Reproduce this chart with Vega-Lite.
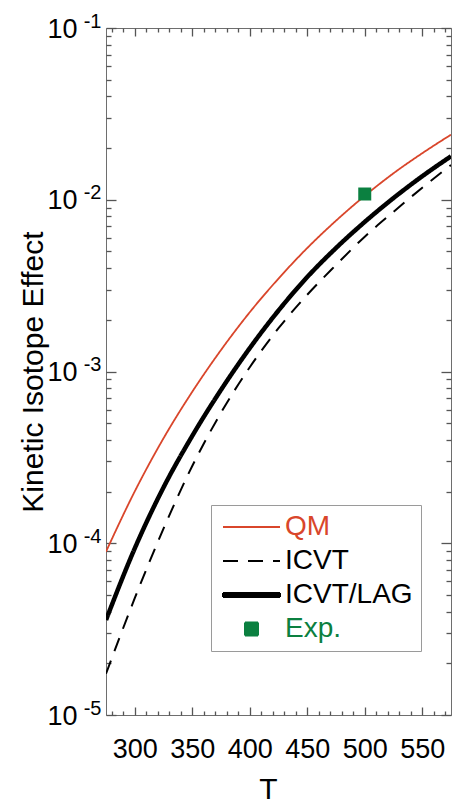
{
  "$schema": "https://vega.github.io/schema/vega-lite/v6.json",
  "width": 345,
  "height": 687,
  "autosize": {"type": "none"},
  "padding": {"left": 106, "top": 28, "right": 1, "bottom": 88},
  "background": "white",
  "config": {
    "view": {"stroke": "#6e6e6e", "strokeWidth": 1},
    "font": "Liberation Sans",
    "axis": {"grid": false, "tickColor": "#555555", "tickWidth": 1.3, "domain": false, "tickOpacity": 1}
  },
  "datasets": {
    "curves": [
      {"T": 275, "KIE": 8.93e-5, "series": "QM"},
      {"T": 300, "KIE": 2.004e-4, "series": "QM"},
      {"T": 325, "KIE": 4.083e-4, "series": "QM"},
      {"T": 350, "KIE": 7.62e-4, "series": "QM"},
      {"T": 375, "KIE": 1.334e-3, "series": "QM"},
      {"T": 400, "KIE": 2.213e-3, "series": "QM"},
      {"T": 425, "KIE": 3.475e-3, "series": "QM"},
      {"T": 450, "KIE": 5.236e-3, "series": "QM"},
      {"T": 475, "KIE": 7.551e-3, "series": "QM"},
      {"T": 500, "KIE": 1.054e-2, "series": "QM"},
      {"T": 525, "KIE": 1.426e-2, "series": "QM"},
      {"T": 550, "KIE": 1.866e-2, "series": "QM"},
      {"T": 575, "KIE": 2.393e-2, "series": "QM"},
      {"T": 275, "KIE": 1.738e-5, "series": "ICVT"},
      {"T": 300, "KIE": 4.786e-5, "series": "ICVT"},
      {"T": 325, "KIE": 1.216e-4, "series": "ICVT"},
      {"T": 350, "KIE": 2.818e-4, "series": "ICVT"},
      {"T": 375, "KIE": 5.754e-4, "series": "ICVT"},
      {"T": 400, "KIE": 1.059e-3, "series": "ICVT"},
      {"T": 425, "KIE": 1.786e-3, "series": "ICVT"},
      {"T": 450, "KIE": 2.799e-3, "series": "ICVT"},
      {"T": 475, "KIE": 4.169e-3, "series": "ICVT"},
      {"T": 500, "KIE": 6.095e-3, "series": "ICVT"},
      {"T": 525, "KIE": 8.511e-3, "series": "ICVT"},
      {"T": 550, "KIE": 1.175e-2, "series": "ICVT"},
      {"T": 575, "KIE": 1.592e-2, "series": "ICVT"},
      {"T": 275, "KIE": 3.573e-5, "series": "ICVT/LAG"},
      {"T": 300, "KIE": 9.333e-5, "series": "ICVT/LAG"},
      {"T": 325, "KIE": 2.113e-4, "series": "ICVT/LAG"},
      {"T": 350, "KIE": 4.217e-4, "series": "ICVT/LAG"},
      {"T": 375, "KIE": 7.816e-4, "series": "ICVT/LAG"},
      {"T": 400, "KIE": 1.368e-3, "series": "ICVT/LAG"},
      {"T": 425, "KIE": 2.265e-3, "series": "ICVT/LAG"},
      {"T": 450, "KIE": 3.548e-3, "series": "ICVT/LAG"},
      {"T": 475, "KIE": 5.236e-3, "series": "ICVT/LAG"},
      {"T": 500, "KIE": 7.43e-3, "series": "ICVT/LAG"},
      {"T": 525, "KIE": 1.023e-2, "series": "ICVT/LAG"},
      {"T": 550, "KIE": 1.371e-2, "series": "ICVT/LAG"},
      {"T": 575, "KIE": 1.791e-2, "series": "ICVT/LAG"}
    ],
    "exp": [{"T": 500, "KIE": 0.0108, "series": "Exp."}]
  },
  "layer": [
    {
      "data": {"name": "curves"},
      "mark": {"type": "line", "interpolate": "monotone", "clip": true},
      "encoding": {
        "x": {
          "field": "T", "type": "quantitative",
          "scale": {"domain": [275, 575], "nice": false, "zero": false},
          "axis": {
            "orient": "bottom", "title": "T", "ticks": false,
            "values": [300, 350, 400, 450, 500, 550],
            "labelPadding": 21, "labelFontSize": 27, "labelColor": "black", "labelFont": "Liberation Sans",
            "labelOverlap": false, "labelFlush": false,
            "titleFontSize": 30, "titleFontWeight": "normal", "titleColor": "black", "titleFont": "Liberation Sans",
            "titleX": 162, "titleY": 83, "titleBaseline": "alphabetic"
          }
        },
        "y": {
          "field": "KIE", "type": "quantitative",
          "scale": {"type": "log", "domain": [1e-5, 0.1], "nice": false},
          "axis": {
            "orient": "left", "title": "Kinetic Isotope Effect", "ticks": false,
            "values": [1e-5, 1e-4, 0.001, 0.01, 0.1],
            "labelExpr": "'10'",
            "labelPadding": 29, "labelFontSize": 27, "labelColor": "black", "labelFont": "Liberation Sans",
            "labelBaseline": "middle", "labelOffset": 1, "labelOverlap": false,
            "titleFontSize": 30, "titleFontWeight": "normal", "titleColor": "black", "titleFont": "Liberation Sans",
            "titleX": -64, "titleBaseline": "alphabetic"
          }
        },
        "color": {
          "field": "series", "type": "nominal",
          "scale": {"domain": ["QM", "ICVT", "ICVT/LAG", "Exp."], "range": ["#d9462b", "#000000", "#000000", "#0b8040"]},
          "legend": {
            "orient": "none", "legendX": 105, "legendY": 477, "title": null,
            "strokeColor": "#9a9a9a", "fillColor": "white", "padding": 8,
            "symbolSize": 400, "symbolType": "stroke", "symbolStrokeWidth": 2,
            "symbolOffset": 18.5, "labelOffset": 19.5, "rowPadding": 6,
            "labelFont": "Liberation Sans", "labelFontSize": 28, "labelLimit": 300,
            "encode": {
              "symbols": {"update": {
                "shape": {"signal": "datum.value === 'Exp.' ? 'M-0.65,-0.65H0.65V0.65H-0.65Z' : datum.value === 'ICVT/LAG' ? 'M-2.85,-0.2H2.85V0.2H-2.85Z' : 'M-2.85,0H2.85'"},
                "fill": {"signal": "datum.value === 'Exp.' ? '#0b8040' : datum.value === 'ICVT/LAG' ? '#000000' : 'transparent'"},
                "stroke": {"signal": "datum.value === 'QM' ? '#d9462b' : datum.value === 'ICVT' ? '#000000' : 'transparent'"},
                "strokeDash": {"signal": "datum.value === 'ICVT' ? [15, 10] : [1, 0]"},
                "opacity": {"value": 1}
              }},
              "labels": {"update": {
                "fill": {"signal": "datum.value === 'QM' ? '#d9462b' : datum.value === 'Exp.' ? '#0b8040' : '#000000'"}
              }}
            }
          }
        },
        "strokeDash": {
          "field": "series", "type": "nominal",
          "scale": {"domain": ["QM", "ICVT", "ICVT/LAG"], "range": [[1, 0], [14, 10], [1, 0]]},
          "legend": null
        },
        "strokeWidth": {
          "condition": [
            {"test": "datum.series === 'ICVT/LAG'", "value": 4.5},
            {"test": "datum.series === 'QM'", "value": 1.8}
          ],
          "value": 2
        }
      }
    },
    {
      "data": {"name": "exp"},
      "mark": {"type": "point", "shape": "square", "filled": true, "size": 169, "opacity": 1},
      "encoding": {
        "x": {
          "field": "T", "type": "quantitative",
          "axis": {"orient": "bottom", "title": null, "labels": false, "ticks": true, "tickSize": 8, "offset": -8,
                   "values": [300, 350, 400, 450, 500, 550]}
        },
        "y": {
          "field": "KIE", "type": "quantitative",
          "axis": {"orient": "left", "title": null, "labels": false, "ticks": true, "tickSize": 10, "offset": -10,
                   "values": [1e-5, 1e-4, 0.001, 0.01, 0.1]}
        },
        "color": {"field": "series", "type": "nominal"}
      }
    },
    {
      "data": {"name": "exp"},
      "mark": {"type": "point", "opacity": 0},
      "encoding": {
        "x": {
          "field": "T", "type": "quantitative",
          "axis": {"orient": "bottom", "title": null, "labels": false, "ticks": true, "tickSize": 4, "offset": -4,
                   "values": [280,290,310,320,330,340,360,370,380,390,410,420,430,440,460,470,480,490,510,520,530,540,560,570]}
        },
        "y": {
          "field": "KIE", "type": "quantitative",
          "axis": {"orient": "left", "title": null, "labels": false, "ticks": true, "tickSize": 5, "offset": -5,
                   "values": [2e-5,3e-5,4e-5,5e-5,6e-5,7e-5,8e-5,9e-5,2e-4,3e-4,4e-4,5e-4,6e-4,7e-4,8e-4,9e-4,0.002,0.003,0.004,0.005,0.006,0.007,0.008,0.009,0.02,0.03,0.04,0.05,0.06,0.07,0.08,0.09]}
        }
      }
    },
    {
      "data": {"name": "exp"},
      "mark": {"type": "point", "opacity": 0},
      "encoding": {
        "x": {
          "field": "T", "type": "quantitative",
          "axis": {"orient": "top", "title": null, "labels": false, "ticks": true, "tickSize": 8, "offset": -8,
                   "values": [300, 350, 400, 450, 500, 550]}
        },
        "y": {
          "field": "KIE", "type": "quantitative",
          "axis": {"orient": "right", "title": null, "labels": false, "ticks": true, "tickSize": 10, "offset": -10,
                   "values": [1e-5, 1e-4, 0.001, 0.01, 0.1]}
        }
      }
    },
    {
      "data": {"name": "exp"},
      "mark": {"type": "point", "opacity": 0},
      "encoding": {
        "x": {
          "field": "T", "type": "quantitative",
          "axis": {"orient": "top", "title": null, "labels": false, "ticks": true, "tickSize": 4, "offset": -4,
                   "values": [280,290,310,320,330,340,360,370,380,390,410,420,430,440,460,470,480,490,510,520,530,540,560,570]}
        },
        "y": {
          "field": "KIE", "type": "quantitative",
          "axis": {"orient": "right", "title": null, "labels": false, "ticks": true, "tickSize": 5, "offset": -5,
                   "values": [2e-5,3e-5,4e-5,5e-5,6e-5,7e-5,8e-5,9e-5,2e-4,3e-4,4e-4,5e-4,6e-4,7e-4,8e-4,9e-4,0.002,0.003,0.004,0.005,0.006,0.007,0.008,0.009,0.02,0.03,0.04,0.05,0.06,0.07,0.08,0.09]}
        }
      }
    },
    {
      "data": {"name": "exp"},
      "mark": {"type": "point", "opacity": 0},
      "encoding": {
        "x": {"field": "T", "type": "quantitative", "axis": null},
        "y": {
          "field": "KIE", "type": "quantitative",
          "axis": {
            "orient": "left", "title": null, "ticks": false,
            "values": [1e-5, 1e-4, 0.001, 0.01, 0.1],
            "labelExpr": "'-' + abs(round(log(datum.value)/LN10))",
            "labelPadding": 5, "labelFontSize": 20, "labelColor": "black", "labelFont": "Liberation Sans",
            "labelBaseline": "middle", "labelOffset": -7, "labelOverlap": false
          }
        }
      }
    }
  ],
  "resolve": {"axis": {"x": "independent", "y": "independent"}}
}
